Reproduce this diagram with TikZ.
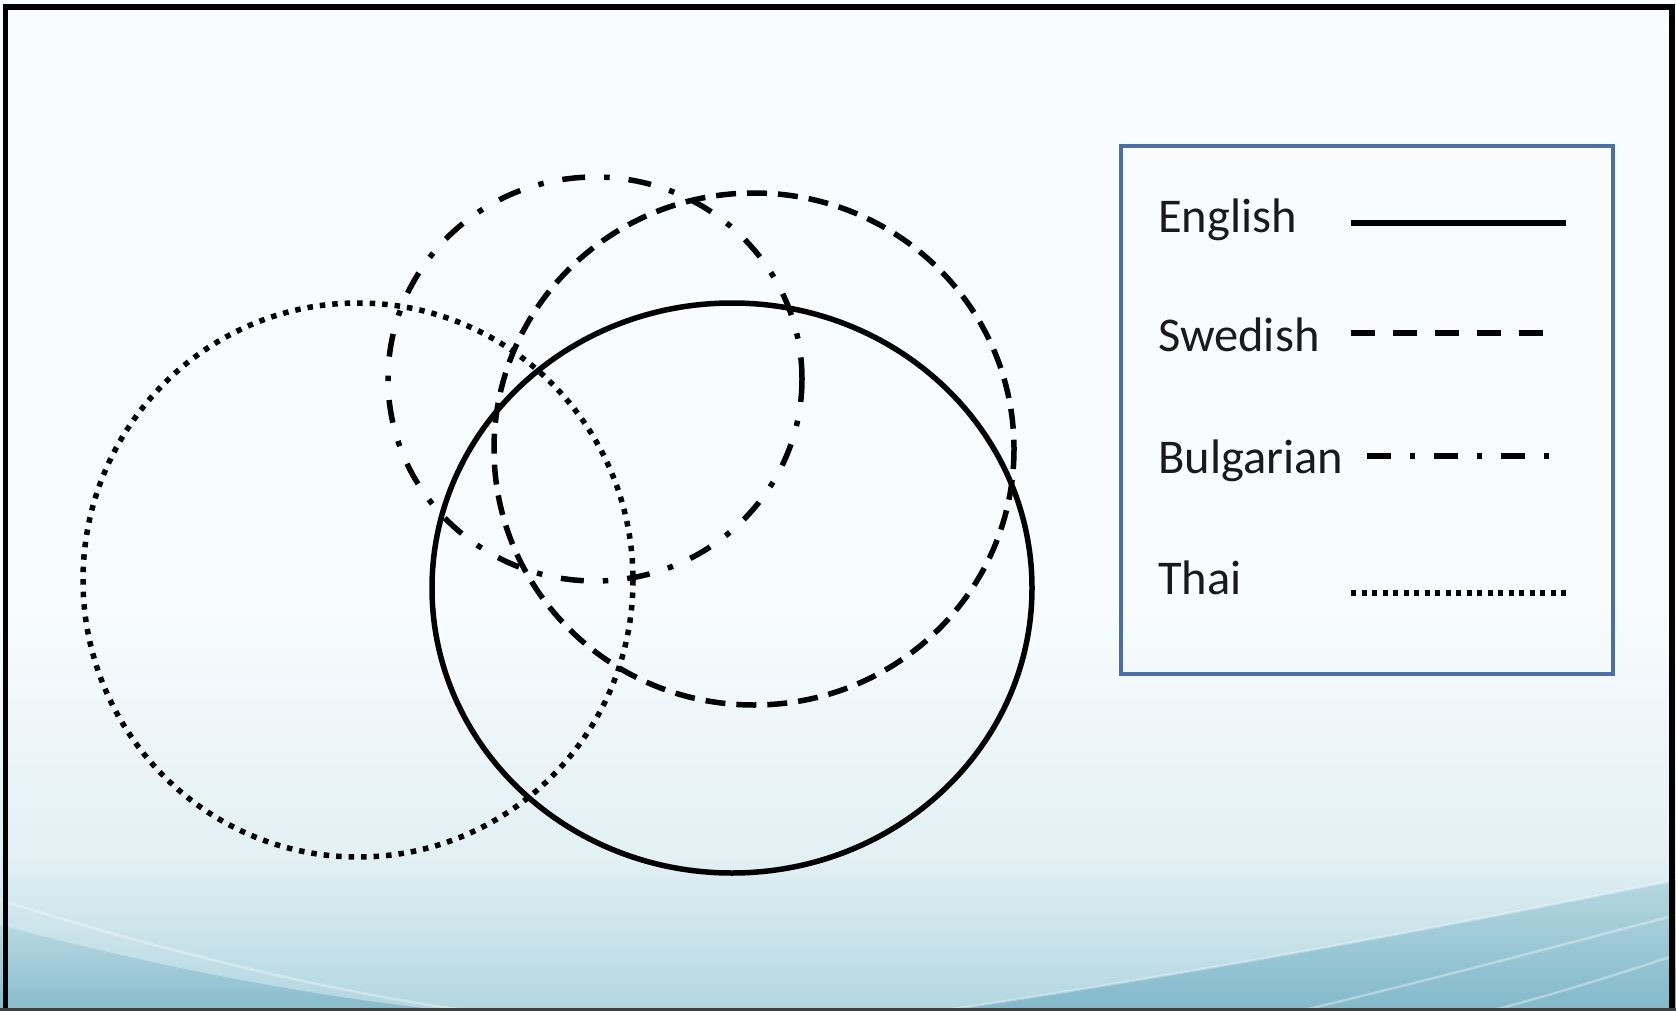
\documentclass[tikz,border=0pt]{standalone}
\usepackage{fontspec}
\setmainfont{Carlito}
\definecolor{bgtop}{HTML}{F9FCFE}
\definecolor{bgmid}{HTML}{E2F0F4}
\definecolor{bgbot}{HTML}{B2D6E0}
\definecolor{bgdark}{HTML}{7DB6C8}
\definecolor{legblue}{HTML}{4A6FA5}
\definecolor{txt}{HTML}{1A1A1A}
\begin{document}
\begin{tikzpicture}[x=1pt,y=-1pt,
  ring/.style={line width=5.5pt, black},
  englishline/.style={ring},
  swedishline/.style={ring, dash pattern=on 20pt off 11pt},
  bulgarianline/.style={ring, dash pattern=on 23pt off 19pt on 5.5pt off 19pt},
  thailine/.style={ring, dash pattern=on 5.5pt off 7pt},
  legline/.style={line width=6pt, black},
  legtext/.style={anchor=base west, inner sep=0pt, text=txt, font=\fontsize{48.5}{58}\selectfont},
  swoosh/.style={white, opacity=0.35, line width=2.5pt}]
\useasboundingbox (0,0) rectangle (1676,1011);
% background
\fill[bgtop] (0,0) rectangle (1676,1011);
\shade[top color=bgtop, bottom color=bgmid] (0,600) rectangle (1676,860);
\shade[top color=bgmid, bottom color=bgbot] (0,859) rectangle (1676,1011);
\shade[top color=bgbot, bottom color=bgdark, opacity=0.8]
  (0,925) .. controls (150,965) and (300,995) .. (450,1011) -- (0,1011) -- cycle;
\shade[top color=bgbot, bottom color=bgdark, opacity=0.9]
  (940,1011) .. controls (1250,965) and (1500,915) .. (1676,880) -- (1676,1011) -- cycle;
\draw[swoosh] (0,900) .. controls (160,950) and (320,990) .. (470,1011);
\draw[swoosh] (940,1011) .. controls (1250,965) and (1500,915) .. (1676,880);
\draw[swoosh] (1300,1011) .. controls (1450,975) and (1580,940) .. (1676,915);
\draw[swoosh] (1490,1011) .. controls (1570,990) and (1630,970) .. (1676,955);
% frame
\draw[line width=5.5pt, black, line join=miter] (5.5,1011) -- (5.5,7) -- (1672,7) -- (1672,1011);
\draw[line width=3pt, black!75] (0,1009.5) -- (1676,1009.5);
% circles
\draw[thailine] (358,580) ellipse [x radius=275, y radius=277];
\draw[bulgarianline] (595,379) ellipse [x radius=207, y radius=202];
\draw[swedishline] (754,449) ellipse [x radius=260, y radius=256];
\draw[englishline] (732,588) ellipse [x radius=300, y radius=285];
% legend
\draw[legblue, line width=4pt] (1121,146) rectangle (1613,674);
\node[legtext] (tEng) at (1158,233) {English};
\node[legtext] (tSwe) at (1158,351) {Swedish};
\node[legtext] (tBul) at (1158,473) {Bulgarian};
\node[legtext] (tTha) at (1158,594) {Thai};
\coordinate (eA) at (1351,223); \coordinate (eB) at (1566,223);
\coordinate (sA) at (1351,333); \coordinate (sB) at (1550,333);
\coordinate (bA) at (1367,456); \coordinate (bB) at (1555,456);
\coordinate (hA) at (1351,593); \coordinate (hB) at (1566,593);
\draw[legline] (eA) -- (eB);
\draw[legline, dash pattern=on 24pt off 18pt] (sA) -- (sB);
\draw[legline, dash pattern=on 24pt off 19pt on 5pt off 19pt] (bA) -- (bB);
\draw[legline, dash pattern=on 5pt off 5.5pt] (hA) -- (hB);
\end{tikzpicture}
\end{document}
